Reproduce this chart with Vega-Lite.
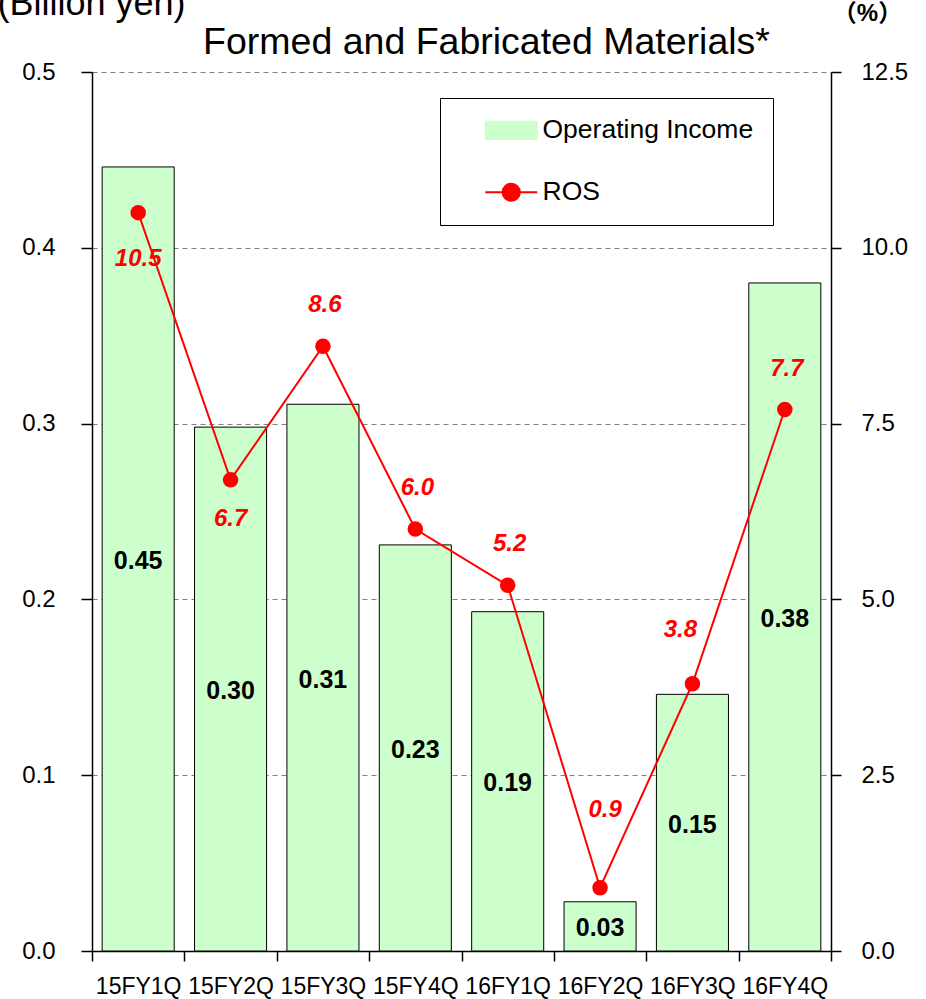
{
  "$schema": "https://vega.github.io/schema/vega-lite/v6.json",
  "width": 739,
  "height": 879,
  "autosize": "none",
  "padding": {"left": 92, "top": 72, "right": 95, "bottom": 48},
  "background": "white",
  "config": {
    "view": {"stroke": null},
    "font": "Liberation Sans",
    "axis": {"labelFont": "Liberation Sans", "titleFont": "Liberation Sans", "labelColor": "black", "titleColor": "black", "domainColor": "black", "tickColor": "black"}
  },
  "title": {"text": "Formed and Fabricated Materials*", "fontSize": 37.5, "fontWeight": "normal", "font": "Liberation Sans", "color": "black", "anchor": "middle", "dx": 25, "offset": 16, "dy": 92},
  "data": {
    "values": [
      {"q": "15FY1Q", "oi": 0.446, "ros": 10.5},
      {"q": "15FY2Q", "oi": 0.298, "ros": 6.7},
      {"q": "15FY3Q", "oi": 0.311, "ros": 8.6},
      {"q": "15FY4Q", "oi": 0.231, "ros": 6.0},
      {"q": "16FY1Q", "oi": 0.193, "ros": 5.2},
      {"q": "16FY2Q", "oi": 0.028, "ros": 0.9},
      {"q": "16FY3Q", "oi": 0.146, "ros": 3.8},
      {"q": "16FY4Q", "oi": 0.380, "ros": 7.7}
    ]
  },
  "encoding": {
    "x": {
      "field": "q", "type": "nominal", "sort": null,
      "scale": {"paddingInner": 0, "paddingOuter": 0},
      "axis": {"title": null, "tickBand": "extent", "labelAngle": 0, "labelFontSize": 23, "labelPadding": 14, "tickSize": 10, "domainWidth": 1.5, "tickWidth": 1.5, "grid": false}
    }
  },
  "layer": [
    {
      "mark": {"type": "bar", "width": {"band": 0.78}, "stroke": "black", "strokeWidth": 1},
      "encoding": {
        "y": {
          "field": "oi", "type": "quantitative", "scale": {"domain": [0, 0.5]},
          "axis": {"orient": "left", "title": "(Billion yen)", "titleAngle": 0, "titleX": -1, "titleY": -58, "titleAlign": "center", "titleBaseline": "alphabetic", "titleFontSize": 36, "titleFontWeight": "normal", "values": [0, 0.1, 0.2, 0.3, 0.4, 0.5], "format": ".1f", "labelFontSize": 24, "labelPadding": 26, "tickSize": 11, "tickWidth": 1.5, "domainWidth": 1.5, "grid": true, "gridDash": [5, 4], "gridColor": "#808080", "gridWidth": 1}
        },
        "color": {
          "datum": "Operating Income",
          "scale": {"domain": ["Operating Income", "ROS"], "range": ["#ccffcc", "#ff0000"]},
          "legend": {
            "orient": "none", "legendX": 348, "legendY": 26, "title": null,
            "strokeColor": "black", "fillColor": "white", "padding": 19, "rowPadding": 35,
            "symbolSize": 2704, "symbolOffset": 39, "labelFontSize": 26.5, "labelFont": "Liberation Sans", "labelColor": "black", "labelOffset": 18, "labelLimit": 400,
            "symbolType": {"expr": "datum.value === 'ROS' ? 'M-1,0L1,0M-0.33,0A0.33,0.33 0 1,1 0.33,0A0.33,0.33 0 1,1 -0.33,0Z' : 'M-1,-0.35L1,-0.35L1,0.35L-1,0.35Z'"},
            "symbolStrokeColor": {"expr": "datum.value === 'ROS' ? '#ff0000' : '#000000'"},
            "symbolFillColor": {"expr": "datum.value === 'ROS' ? '#ff0000' : '#ccffcc'"},
            "symbolStrokeWidth": {"expr": "datum.value === 'ROS' ? 2 : 1"},
            "symbolOpacity": 1
          }
        }
      }
    },
    {
      "mark": {"type": "text", "fontSize": 25, "fontWeight": "bold", "color": "black", "baseline": "middle", "dy": 2},
      "encoding": {
        "y": {"field": "oi", "type": "quantitative", "scale": {"domain": [0, 1]}, "axis": null},
        "text": {"field": "oi", "type": "quantitative", "format": ".2f"}
      }
    },
    {
      "encoding": {
        "y": {
          "field": "ros", "type": "quantitative", "scale": {"domain": [0, 12.5]},
          "axis": {"orient": "right", "title": "（%）", "titleFont": "Liberation Sans, Noto Sans CJK JP", "titleAngle": 0, "titleX": 36, "titleY": -52, "titleAlign": "center", "titleBaseline": "alphabetic", "titleFontSize": 24, "titleFontWeight": "bold", "values": [0, 2.5, 5, 7.5, 10, 12.5], "format": ".1f", "labelFontSize": 24, "labelPadding": 20, "tickSize": 10, "tickWidth": 1.5, "domainWidth": 1.5, "grid": false}
        }
      },
      "layer": [
        {
          "mark": {"type": "line", "strokeWidth": 2, "point": {"filled": true, "size": 240}},
          "encoding": {"color": {"datum": "ROS"}}
        },
        {
          "transform": [{"filter": "datum.q === '15FY1Q'"}],
          "mark": {"type": "text", "fontSize": 24, "fontStyle": "italic", "fontWeight": "bold", "color": "#ff0000", "baseline": "middle", "dy": 46},
          "encoding": {"text": {"field": "ros", "type": "quantitative", "format": ".1f"}}
        },
        {
          "transform": [{"filter": "datum.q === '15FY2Q'"}],
          "mark": {"type": "text", "fontSize": 24, "fontStyle": "italic", "fontWeight": "bold", "color": "#ff0000", "baseline": "middle", "dy": 39},
          "encoding": {"text": {"field": "ros", "type": "quantitative", "format": ".1f"}}
        },
        {
          "transform": [{"filter": {"field": "q", "oneOf": ["15FY3Q", "15FY4Q", "16FY1Q", "16FY4Q"]}}],
          "mark": {"type": "text", "fontSize": 24, "fontStyle": "italic", "fontWeight": "bold", "color": "#ff0000", "baseline": "middle", "dy": -41, "dx": 2},
          "encoding": {"text": {"field": "ros", "type": "quantitative", "format": ".1f"}}
        },
        {
          "transform": [{"filter": "datum.q === '16FY2Q'"}],
          "mark": {"type": "text", "fontSize": 24, "fontStyle": "italic", "fontWeight": "bold", "color": "#ff0000", "baseline": "middle", "dy": -78, "dx": 5},
          "encoding": {"text": {"field": "ros", "type": "quantitative", "format": ".1f"}}
        },
        {
          "transform": [{"filter": "datum.q === '16FY3Q'"}],
          "mark": {"type": "text", "fontSize": 24, "fontStyle": "italic", "fontWeight": "bold", "color": "#ff0000", "baseline": "middle", "dy": -54, "dx": -12},
          "encoding": {"text": {"field": "ros", "type": "quantitative", "format": ".1f"}}
        }
      ]
    }
  ],
  "resolve": {"scale": {"y": "independent"}, "axis": {"y": "independent"}}
}
